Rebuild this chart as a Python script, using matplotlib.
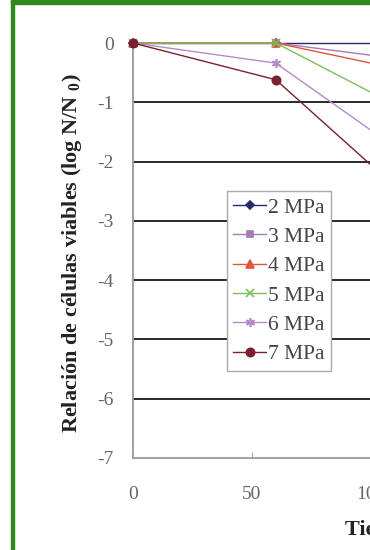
import matplotlib
matplotlib.use('Agg')
import matplotlib.pyplot as plt
from matplotlib.patches import Rectangle

plt.rcParams['font.family'] = ['Liberation Serif', 'DejaVu Serif']
plt.rcParams['mathtext.fontset'] = 'stix'
plt.rcParams['axes.unicode_minus'] = False

# supervivencia frente al tiempo para cada presion
tiempo = [0, 60, 120]
series = ['2 MPa', '3 MPa', '4 MPa', '5 MPa', '6 MPa', '7 MPa']
p2 = [0, 0, 0]
p3 = [0, 0, -0.31]
p4 = [0, 0, -0.51]
p5 = [0, 0, -1.25]
p6 = [0, -0.34, -2.04]
p7 = [0, -0.62, -2.78]
valores = [p2, p3, p4, p5, p6, p7]
yticks = [0, -1, -2, -3, -4, -5, -6, -7]
xticks = [0, 50, 100, 150, 200]

colores = ['#2a2a66', '#a77ab8', '#e0553f', '#7cbf5a', '#b58ac8', '#7a2030']
marcadores = ['D', 's', '^', 'x', (6, 2, 0), 'o']
tamanos = [4, 5, 5.5, 6, 6.5, 6]

W, H = 370, 550
fig = plt.figure(figsize=(W / 100, H / 100), dpi=100)
fig.patch.set_facecolor('white')

ax = fig.add_axes([133 / W, 92 / H, 500 / W, 415 / H])
ax.set_xlim(0, 210)
ax.set_ylim(-7, 0)

for yv in yticks[:-1]:
    ax.axhline(yv, color='#2a2a2a', lw=1.4, zorder=1)

for nombre, ys, c, m, s in zip(series, valores, colores, marcadores, tamanos):
    ax.plot(tiempo, ys, color=c, lw=1.0, marker=m, ms=s, mew=1.2,
            mec=c, mfc=c, label=nombre, clip_on=False, zorder=3)

for lado in ['top', 'right']:
    ax.spines[lado].set_visible(False)
for lado in ['left', 'bottom']:
    ax.spines[lado].set_color('#9a9a9a')
    ax.spines[lado].set_linewidth(1.3)

ax.set_yticks(yticks)
ax.set_xticks(xticks)
ax.tick_params(axis='y', length=0, pad=14, labelsize=14, labelcolor='#666666')
ax.tick_params(axis='x', direction='in', length=4, color='#aaaaaa', pad=20,
               labelsize=14, labelcolor='#666666')

ax.set_ylabel(r'Relación de células viables (log N/N $_{\mathregular{0}}$)',
              fontsize=16, fontweight='bold', color='#222222')
ax.yaxis.set_label_coords((84 - 133) / 500, 0.495)
ax.set_xlabel('Tiempo (min)', fontsize=16, fontweight='bold', color='#222222')
ax.xaxis.label.set_ha('left')
ax.xaxis.label.set_va('top')
ax.xaxis.set_label_coords((345 - 133) / 500, -0.15)

leg = ax.legend(loc='upper left', bbox_to_anchor=(227 / W, 1 - 191 / H),
                bbox_transform=fig.transFigure, borderaxespad=0, fontsize=15.5,
                frameon=True, fancybox=False, framealpha=1, edgecolor='#aaaaaa',
                labelspacing=0.43, handlelength=1.5, handletextpad=0.1,
                borderpad=0.3)
leg.get_frame().set_linewidth(1.0)
for t in leg.get_texts():
    t.set_color('#444444')

# marco verde
fig.patches.append(Rectangle((11 / W, 0), 3 / W, 1, transform=fig.transFigure,
                             color='#2f8a1e', zorder=10))
fig.patches.append(Rectangle((11 / W, 1 - 4 / H), 1, 4 / H, transform=fig.transFigure,
                             color='#2f8a1e', zorder=10))

fig.savefig('out.png', dpi=100)
